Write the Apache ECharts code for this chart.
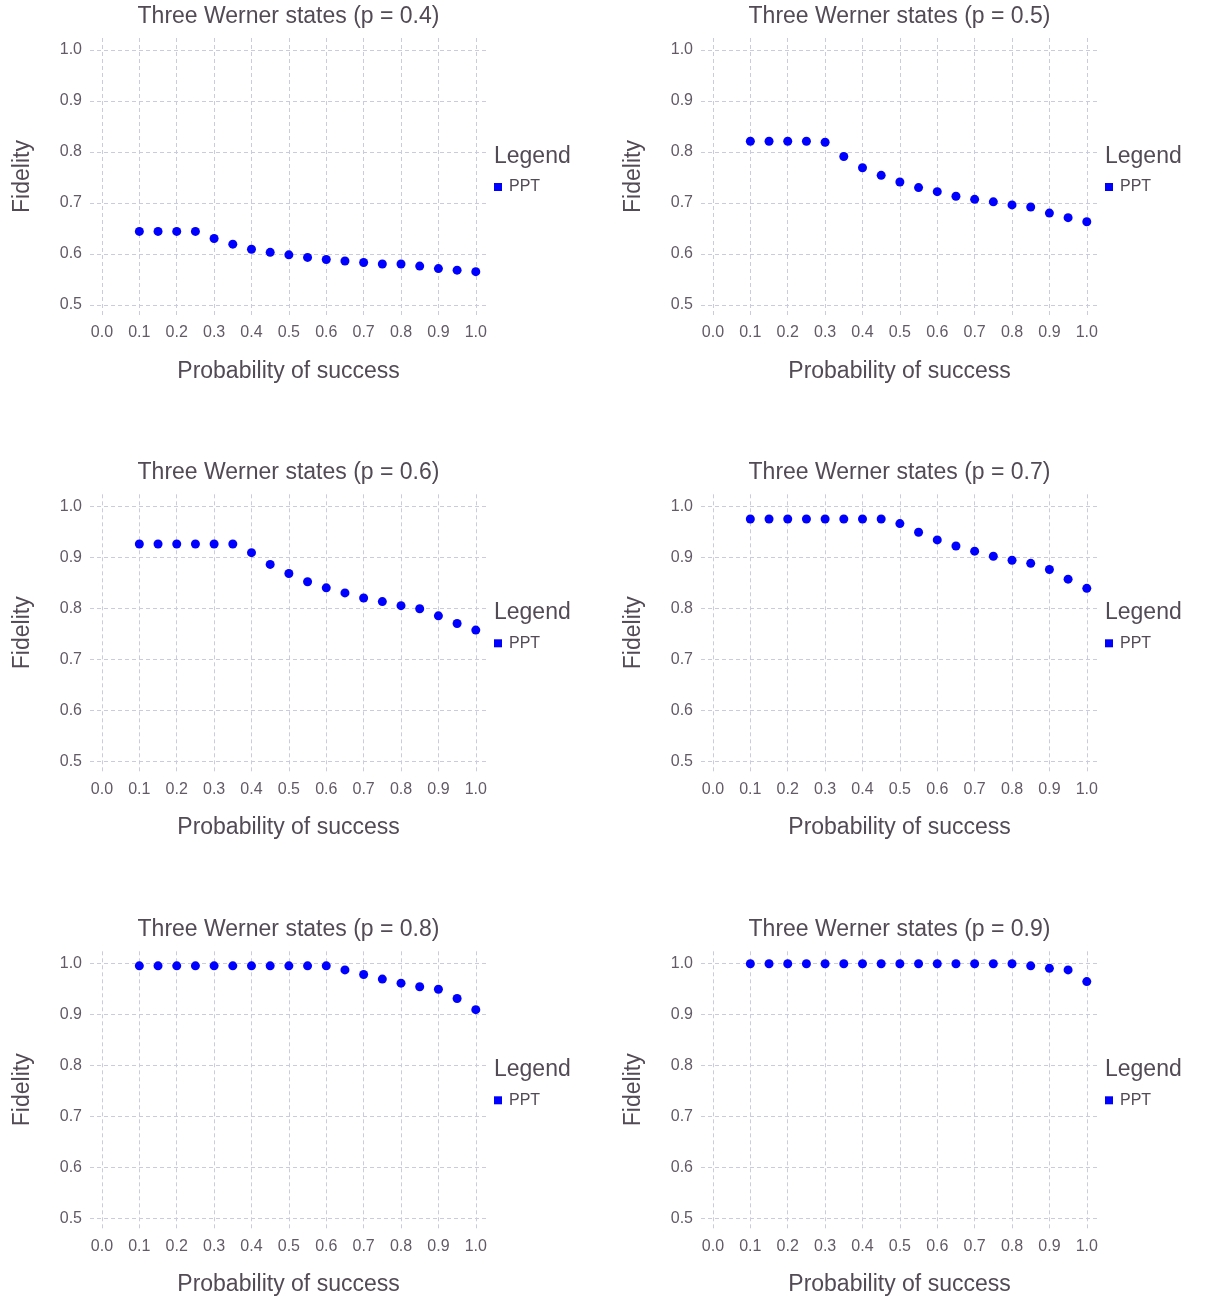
<!DOCTYPE html>
<html>
<head>
<meta charset="utf-8">
<script src="https://cdn.jsdelivr.net/npm/echarts@6/dist/echarts.min.js"></script>
<style>
html,body{margin:0;padding:0;background:#fff;}
#chart{width:1205px;height:1300px;}
</style>
</head>
<body>
<div id="chart"></div>
<script>
const xTicks = [0.0, 0.1, 0.2, 0.3, 0.4, 0.5, 0.6, 0.7, 0.8, 0.9, 1.0];
const yTicks = [0.5, 0.6, 0.7, 0.8, 0.9, 1.0];
const probabilities = [0.1, 0.15, 0.2, 0.25, 0.3, 0.35, 0.4, 0.45, 0.5, 0.55, 0.6, 0.65, 0.7, 0.75, 0.8, 0.85, 0.9, 0.95, 1.0];
const panelP = ['0.4', '0.5', '0.6', '0.7', '0.8', '0.9'];
const fidelityP04 = [0.644, 0.644, 0.644, 0.644, 0.630, 0.619, 0.609, 0.603, 0.598, 0.593, 0.589, 0.586, 0.583, 0.580, 0.580, 0.576, 0.571, 0.568, 0.565];
const fidelityP05 = [0.821, 0.821, 0.821, 0.821, 0.819, 0.791, 0.769, 0.754, 0.741, 0.730, 0.722, 0.713, 0.707, 0.702, 0.696, 0.692, 0.680, 0.671, 0.663];
const fidelityP06 = [0.926, 0.926, 0.926, 0.926, 0.926, 0.926, 0.909, 0.886, 0.868, 0.852, 0.840, 0.830, 0.820, 0.813, 0.805, 0.799, 0.785, 0.770, 0.757];
const fidelityP07 = [0.975, 0.975, 0.975, 0.975, 0.975, 0.975, 0.975, 0.975, 0.966, 0.949, 0.934, 0.922, 0.912, 0.902, 0.894, 0.888, 0.876, 0.857, 0.839];
const fidelityP08 = [0.995, 0.995, 0.995, 0.995, 0.995, 0.995, 0.995, 0.995, 0.995, 0.995, 0.995, 0.987, 0.978, 0.969, 0.961, 0.954, 0.949, 0.931, 0.909];
const fidelityP09 = [0.999, 0.999, 0.999, 0.999, 0.999, 0.999, 0.999, 0.999, 0.999, 0.999, 0.999, 0.999, 0.999, 0.999, 0.999, 0.995, 0.990, 0.987, 0.964];
const seriesName = 'PPT';
const titlePrefix = 'Three Werner states (p = ';
const xName = 'Probability of success';
const yName = 'Fidelity';
const legendTitle = 'Legend';

const allFidelity = [fidelityP04, fidelityP05, fidelityP06, fidelityP07, fidelityP08, fidelityP09];

const FONT = '"Liberation Sans", Arial, Helvetica, sans-serif';
const TEXT = '#524a55';
const LABEL = '#625a66';
const GRIDC = '#cbcbe0';

const grids = [], xAxes = [], yAxes = [], series = [], titles = [], legends = [];
const colX = [90, 701];
const rowY = [38, 494.3, 951.3];
const gw = 397, gh = 277;

allFidelity.forEach((vals, i) => {
  const c = i % 2, r = Math.floor(i / 2);
  const left = colX[c], top = rowY[r];
  grids.push({left: left, top: top, width: gw, height: gh, containLabel: false});
  xAxes.push({
    type: 'value', gridIndex: i, min: -0.032, max: 1.03,
    name: xName, nameLocation: 'middle', nameGap: 45,
    nameTextStyle: {fontSize: 23, color: TEXT, fontFamily: FONT},
    axisLine: {show: false}, axisTick: {show: false, customValues: xTicks},
    axisLabel: {customValues: xTicks, formatter: v => v.toFixed(1), fontSize: 16, color: LABEL, fontFamily: FONT, margin: 10},
    splitLine: {show: true, lineStyle: {color: GRIDC, type: [4, 3], width: 1}}
  });
  yAxes.push({
    type: 'value', gridIndex: i, min: 0.48, max: 1.0235,
    name: yName, nameLocation: 'middle', nameGap: 56,
    nameTextStyle: {fontSize: 23, color: TEXT, fontFamily: FONT},
    axisLine: {show: false}, axisTick: {show: false, customValues: yTicks},
    axisLabel: {customValues: yTicks, formatter: v => v.toFixed(1), fontSize: 16, color: LABEL, fontFamily: FONT, margin: 8},
    splitLine: {show: true, lineStyle: {color: GRIDC, type: [4, 3], width: 1}}
  });
  series.push({
    type: 'scatter', name: seriesName, xAxisIndex: i, yAxisIndex: i,
    symbol: 'circle', symbolSize: 9,
    itemStyle: {color: '#0000ff', opacity: 1},
    data: probabilities.map((p, k) => [p, vals[k]])
  });
  titles.push({
    text: titlePrefix + panelP[i] + ')',
    left: left + gw / 2, top: top - 33, textAlign: 'center',
    padding: 0,
    textStyle: {fontSize: 23, fontWeight: 'normal', color: TEXT, fontFamily: FONT}
  });
  titles.push({
    text: legendTitle,
    left: left + 404, top: top + 107, padding: 0,
    textStyle: {fontSize: 23, fontWeight: 'normal', color: TEXT, fontFamily: FONT}
  });
  legends.push({
    left: left + 404, top: top + 141, padding: 0,
    orient: 'vertical', selectedMode: false,
    itemWidth: 8, itemHeight: 8, itemGap: 5,
    data: [{name: seriesName, icon: 'rect', itemStyle: {color: '#0000ff', opacity: 1}}],
    textStyle: {fontSize: 16, color: TEXT, fontFamily: FONT, padding: [0, 0, 0, 2]}
  });
});

const chart = echarts.init(document.getElementById('chart'), null, {renderer: 'canvas'});
chart.setOption({
  backgroundColor: '#ffffff',
  animation: false,
  title: titles,
  legend: legends,
  grid: grids,
  xAxis: xAxes,
  yAxis: yAxes,
  series: series
});
</script>
</body>
</html>
